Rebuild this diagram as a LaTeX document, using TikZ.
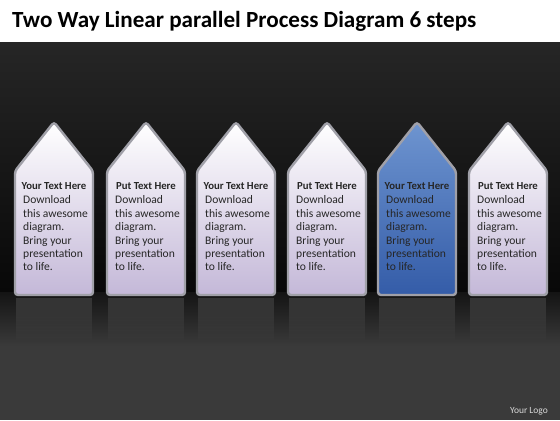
\documentclass[tikz,border=0pt]{standalone}
\usepackage{fontspec}
\setmainfont{Carlito}
\usetikzlibrary{positioning,fadings}
\definecolor{lilac}{RGB}{196,184,216}
\definecolor{steelblue}{RGB}{74,122,196}
\definecolor{deepblue}{RGB}{52,92,168}
\definecolor{rim}{RGB}{160,160,168}
\definecolor{wallTop}{RGB}{38,38,38}
\definecolor{wallBottom}{RGB}{8,8,8}
\definecolor{floorTop}{RGB}{20,20,20}
\definecolor{floorBottom}{RGB}{58,58,58}

\begin{document}
\begin{tikzpicture}[x=1bp,y=-1bp,
    silver/.style={top color=white, bottom color=lilac},
    blue/.style={top color=steelblue!80, bottom color=deepblue},
    frame/.style={draw=rim, line width=2.4bp, rounded corners=3bp},
    head/.style={font=\fontsize{10.8}{13}\selectfont\bfseries, text=black!85, inner sep=0pt},
    body/.style={font=\fontsize{11.6}{13.5}\selectfont, text=black!85, align=left, inner sep=0pt, anchor=north west}]

  % background
  \useasboundingbox (0,0) rectangle (560,420);
  \fill[white] (0,0) rectangle (560,42);
  \shade[top color=wallTop, bottom color=wallBottom] (0,42) rectangle (560,292);
  \shade[top color=floorTop, bottom color=floorBottom] (0,292) rectangle (560,346);
  \fill[floorBottom] (0,346) rectangle (560,420);

  \node[anchor=base west, font=\fontsize{23.2}{27}\selectfont\bfseries, inner sep=0pt] (title) at (12,27) {Two Way Linear parallel Process Diagram 6 steps};

  \foreach \i/\cx/\hd/\sty in {1/54/Your Text Here/silver, 2/146/Put Text Here/silver, 3/236/Your Text Here/silver,
                               4/327/Put Text Here/silver, 5/417/Your Text Here/blue, 6/508/Put Text Here/silver}{
    \fill[white, opacity=0.12, path fading=south] (\cx-38,298) rectangle (\cx+38,342);
    \draw[frame, \sty] (\cx,122) -- (\cx+39,171) -- (\cx+39,295) -- (\cx-39,295) -- (\cx-39,171) -- cycle;
    \node[head] (head_\i) at (\cx,186) {\hd};
    \node[body] (body_\i) at (\cx-31,195.5) {Download\\this awesome\\diagram.\\Bring your\\presentation\\to life.};
  }

  \node[anchor=base east, font=\fontsize{9.5}{11}\selectfont, text=black!15, inner sep=0pt] (logo) at (548,413) {Your Logo};
\end{tikzpicture}
\end{document}
